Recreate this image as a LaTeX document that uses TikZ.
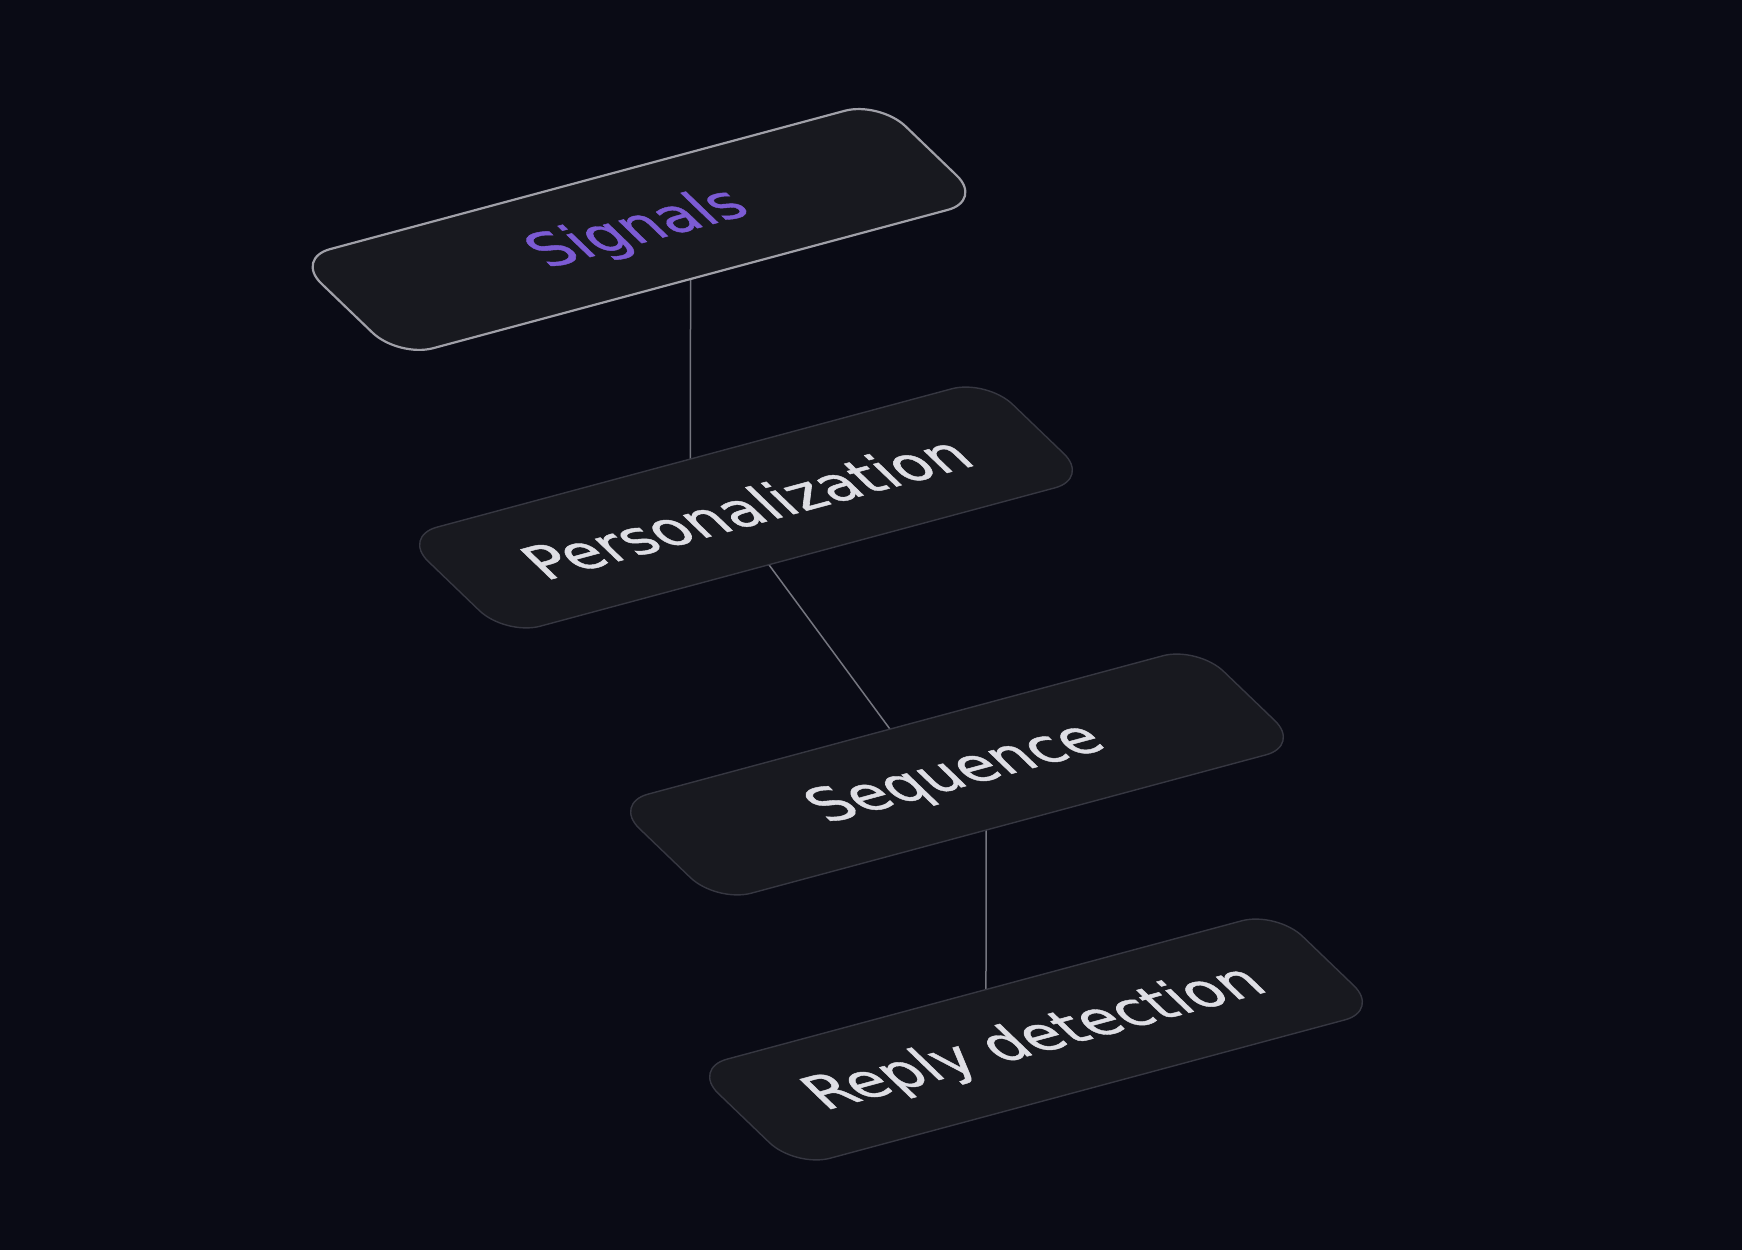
\documentclass[tikz,border=0pt]{standalone}
\usepackage{fontspec}
\setmainfont{DejaVu Sans}[FakeBold=0.9]
\usetikzlibrary{calc}
\definecolor{bgc}{HTML}{0A0B15}
\definecolor{boxfill}{HTML}{18191F}
\definecolor{boxline}{HTML}{363741}
\definecolor{activeline}{HTML}{A0A0A8}
\definecolor{labelc}{HTML}{DEDEE4}
\definecolor{purplec}{HTML}{7C5BD4}
\definecolor{linkc}{HTML}{75767F}
\pgfdeclarelayer{bg}
\pgfsetlayers{bg,main}
\begin{document}
\begin{tikzpicture}[x=1pt,y=1pt,
  box/.style={draw=boxline, line width=1.4pt, fill=boxfill, rounded corners=36pt,
    minimum width=605pt, minimum height=143pt, inner sep=0pt, outer sep=0pt,
    transform shape, text=labelc, font=\fontsize{59}{62}\selectfont},
  activebox/.style={box, draw=activeline, line width=2.2pt, text=purplec},
  link/.style={draw=linkc, line width=1.5pt},
  iso/.style={cm={0.9658,0.2596,-0.7208,0.6928,(#1)}}]
\useasboundingbox (0,0) rectangle (1742,1250);
\begin{scope}[iso={639,1020.5}]
  \node[activebox] (sig) at (0,0) {Signals};
\end{scope}
\begin{scope}[iso={746,742.5}]
  \node[box] (pers) at (0,0) {Personalization};
\end{scope}
\begin{scope}[iso={957,475.5}]
  \node[box] (seq) at (0,0) {Sequence};
\end{scope}
\begin{scope}[iso={1036,210.5}]
  \node[box] (reply) at (0,0) {Reply detection};
\end{scope}
\begin{pgfonlayer}{bg}
  \fill[bgc] (0,0) rectangle (1742,1250);
  \draw[link] ($(sig.south west)!0.5!(sig.south east)$) -- ($(pers.north west)!0.493!(pers.north east)$);
  \draw[link] ($(pers.south west)!0.451!(pers.south east)$) -- ($(seq.north west)!0.4735!(seq.north east)$);
  \draw[link] ($(seq.south west)!0.4615!(seq.south east)$) -- ($(reply.north west)!0.5026!(reply.north east)$);
\end{pgfonlayer}
\end{tikzpicture}
\end{document}
